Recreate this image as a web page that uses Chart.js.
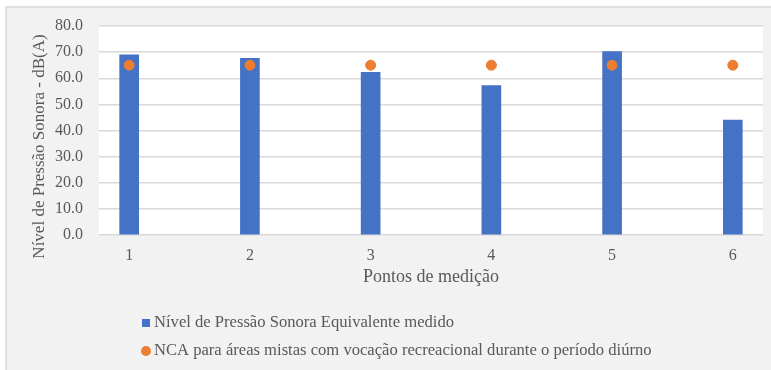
<!DOCTYPE html>
<html>
<head>
<meta charset="utf-8">
<script src="https://cdn.jsdelivr.net/npm/chart.js@4/dist/chart.umd.min.js"></script>
<style>
  html, body { margin: 0; padding: 0; background: #ffffff; }
  #wrap { width: 771px; height: 370px; }
</style>
</head>
<body>
<div id="wrap"><canvas id="c" width="771" height="370"></canvas></div>
<script>
// Measurement points and sound levels, dB(A)
const pontos = [1, 2, 3, 4, 5, 6];
const nivelMedido = [69.0, 67.6, 62.3, 57.2, 70.2, 44.0];
const ncaDiurno = [65, 65, 65, 65, 65, 65];
const serieNomes = [
  'Nível de Pressão Sonora Equivalente medido',
  'NCA para áreas mistas com vocação recreacional durante o período diúrno'
];
const tituloEixoY = 'Nível de Pressão Sonora - dB(A)';
const tituloEixoX = 'Pontos de medição';

const SERIF = '"Liberation Serif", "Times New Roman", serif';
const TEXT = '#595959';

// Grey panel, white plot area
const fundo = {
  id: 'fundo',
  beforeDraw(chart) {
    const { ctx, chartArea: a } = chart;
    ctx.save();
    ctx.fillStyle = '#f2f2f2';
    ctx.fillRect(6, 7, chart.width - 6, chart.height - 7);
    ctx.strokeStyle = '#d9d9d9';
    ctx.lineWidth = 1.5;
    ctx.beginPath();
    ctx.moveTo(6, chart.height);
    ctx.lineTo(6, 7);
    ctx.lineTo(chart.width, 7);
    ctx.stroke();
    ctx.fillStyle = '#ffffff';
    ctx.fillRect(a.left, a.top - 1, a.right - a.left, a.bottom - a.top + 1);
    ctx.restore();
  }
};

// Y-axis title and stacked legend below the axis
const textos = {
  id: 'textos',
  afterDraw(chart) {
    const { ctx, chartArea: a } = chart;
    ctx.save();
    ctx.fillStyle = TEXT;
    ctx.font = '17px ' + SERIF;
    ctx.textAlign = 'center';
    ctx.textBaseline = 'middle';
    ctx.translate(40, (a.top + a.bottom) / 2 + 16);
    ctx.rotate(-Math.PI / 2);
    ctx.fillText(tituloEixoY, 0, 0);
    ctx.restore();

    ctx.save();
    ctx.font = '16.6px ' + SERIF;
    ctx.textAlign = 'left';
    ctx.textBaseline = 'middle';
    chart.data.datasets.forEach((ds, i) => {
      const y = a.bottom + 88 + i * 28;
      ctx.fillStyle = ds.backgroundColor;
      if (ds.type === 'bar') {
        ctx.fillRect(142, y - 4, 8, 8);
      } else {
        ctx.beginPath();
        ctx.arc(146, y, 5, 0, Math.PI * 2);
        ctx.fill();
      }
      ctx.fillStyle = TEXT;
      ctx.fillText(ds.label, 154, y);
    });
    ctx.restore();
  }
};

new Chart(document.getElementById('c'), {
  type: 'bar',
  data: {
    datasets: [
      {
        type: 'bar',
        label: serieNomes[0],
        data: pontos.map((p, i) => ({ x: p, y: nivelMedido[i] })),
        backgroundColor: '#4472C4',
        barThickness: 19,
        order: 2
      },
      {
        type: 'scatter',
        label: serieNomes[1],
        data: pontos.map((p, i) => ({ x: p, y: ncaDiurno[i] })),
        backgroundColor: '#ED7D31',
        borderColor: '#ED7D31',
        pointRadius: 5,
        pointHoverRadius: 5,
        order: 1
      }
    ]
  },
  options: {
    responsive: false,
    animation: false,
    layout: { padding: { left: 20, top: 26, right: 8, bottom: 82 } },
    plugins: { legend: { display: false }, tooltip: { enabled: false } },
    scales: {
      x: {
        type: 'linear',
        offset: false,
        min: 0.75,
        max: 6.25,
        afterBuildTicks: s => { s.ticks = pontos.map(v => ({ value: v })); },
        afterFit: s => { s.height = 53; },
        grid: { display: false, drawTicks: false },
        border: { display: false },
        ticks: { color: TEXT, font: { family: SERIF, size: 16 }, padding: 11, autoSkip: false },
        title: {
          display: true, text: tituloEixoX, color: TEXT,
          font: { family: SERIF, size: 18 }, padding: { top: 4, bottom: 0 }
        }
      },
      y: {
        min: 0,
        max: 80,
        afterFit: s => { s.width = 79; },
        ticks: {
          stepSize: 10, color: TEXT, padding: 16,
          font: { family: SERIF, size: 16 },
          callback: v => Number(v).toFixed(1)
        },
        grid: { color: '#d9d9d9', lineWidth: 1.5, drawTicks: false },
        border: { display: false }
      }
    }
  },
  plugins: [fundo, textos]
});
</script>
</body>
</html>
